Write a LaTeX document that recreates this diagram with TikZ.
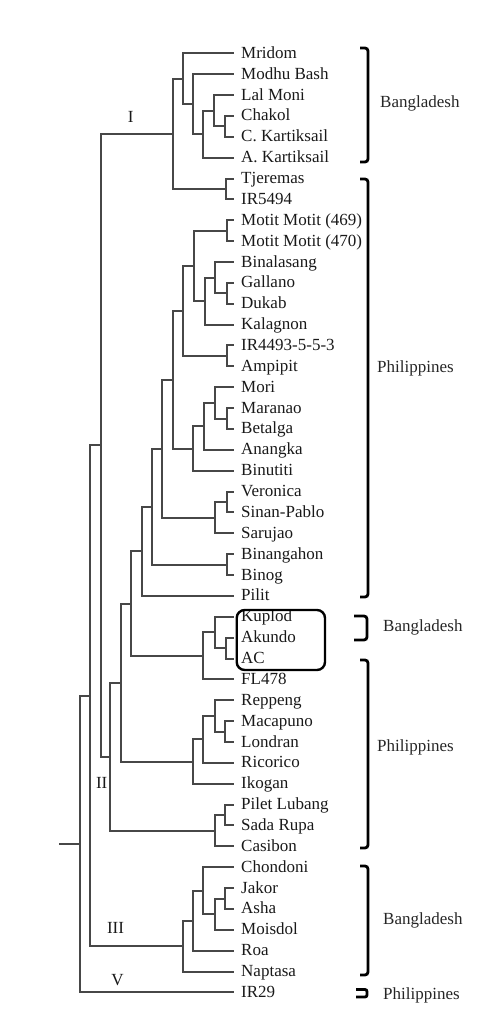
\documentclass[tikz,border=0pt]{standalone}
\usepackage{fontspec}
\setmainfont{Liberation Serif}
\begin{document}
\begin{tikzpicture}[x=1pt,y=-1pt,
  leaf/.style={anchor=west, inner sep=0pt, text height=13pt, text depth=3pt, text=black!90, font=\fontsize{17}{20}\selectfont},
  branch/.style={line width=2pt, draw=black!72},
  tip/.style={branch, shorten >=7pt},
  grp/.style={inner sep=0pt, text=black!90, font=\fontsize{17}{20}\selectfont},
  brk/.style={line width=2.8pt, rounded corners=3pt},
  region/.style={anchor=west, inner sep=0pt, text=black!85, font=\fontsize{17}{20}\selectfont}]
\useasboundingbox (0,0) rectangle (502,1022);

% leaves
\foreach \i/\t in {1/Mridom, 2/{Modhu Bash}, 3/{Lal Moni}, 4/Chakol, 5/{C. Kartiksail}, 6/{A. Kartiksail},
  7/Tjeremas, 8/IR5494, 9/{Motit Motit (469)}, 10/{Motit Motit (470)}, 11/Binalasang, 12/Gallano,
  13/Dukab, 14/Kalagnon, 15/IR4493-5-5-3, 16/Ampipit, 17/Mori, 18/Maranao, 19/Betalga, 20/Anangka,
  21/Binutiti, 22/Veronica, 23/Sinan-Pablo, 24/Sarujao, 25/Binangahon, 26/Binog, 27/Pilit,
  28/Kuplod, 29/Akundo, 30/AC, 31/FL478, 32/Reppeng, 33/Macapuno, 34/Londran, 35/Ricorico,
  36/Ikogan, 37/{Pilet Lubang}, 38/{Sada Rupa}, 39/Casibon, 40/Chondoni, 41/Jakor, 42/Asha,
  43/Moisdol, 44/Roa, 45/Naptasa, 46/IR29}
  \node[leaf] (L\i) at (241, {53.3+(\i-1)*20.87}) {\t};

% internal nodes
\coordinate (a1) at (225,126.35);
\coordinate (a2) at (214,110.7);
\coordinate (a3) at (203,134.2);
\coordinate (a4) at (193,104.2);
\coordinate (a5) at (183,78.75);
\coordinate (b1) at (226,189.0);
\coordinate (cI) at (173,133.9);
\coordinate (c1) at (227,230.7);
\coordinate (c2) at (227,293.3);
\coordinate (c3) at (215,277.65);
\coordinate (c4) at (205,301.1);
\coordinate (c5) at (194,265.9);
\coordinate (c6) at (227,355.95);
\coordinate (c7) at (183,310.9);
\coordinate (d1) at (227,418.55);
\coordinate (d2) at (215,402.9);
\coordinate (d3) at (204,426.35);
\coordinate (d4) at (193,448.5);
\coordinate (e1) at (173,379.7);
\coordinate (f1) at (227,502.0);
\coordinate (f2) at (215,517.65);
\coordinate (g1) at (162,448.7);
\coordinate (h1) at (227,564.65);
\coordinate (g2) at (152,506.7);
\coordinate (g3) at (142,551.3);
\coordinate (k1) at (226,648.1);
\coordinate (k2) at (215,632.45);
\coordinate (k3) at (203,655.9);
\coordinate (g4) at (131,603.6);
\coordinate (r1) at (225,731.55);
\coordinate (r2) at (215,715.9);
\coordinate (r3) at (203,739.4);
\coordinate (r4) at (193,761.6);
\coordinate (g5) at (121,682.6);
\coordinate (p1) at (225,815.05);
\coordinate (p2) at (215,830.7);
\coordinate (g6) at (110,756.7);
\coordinate (n100) at (100.5,445.3);
\coordinate (t1) at (225,898.55);
\coordinate (t2) at (215,914.2);
\coordinate (t3) at (203,890.7);
\coordinate (t4) at (193,920.7);
\coordinate (t5) at (183,946.15);
\coordinate (n90) at (90,695.7);
\coordinate (root) at (79.5,844.1);
\coordinate (stub) at (59,844.1);

% connectors to leaves
\foreach \p/\c in {a1/L4, a1/L5, a2/L3, a3/L6, a4/L2, a5/L1, b1/L7, b1/L8, c1/L9, c1/L10,
  c2/L12, c2/L13, c3/L11, c4/L14, c6/L15, c6/L16, d1/L18, d1/L19, d2/L17, d3/L20, d4/L21,
  f1/L22, f1/L23, f2/L24, h1/L25, h1/L26, g3/L27, k1/L29, k1/L30, k2/L28, k3/L31,
  r1/L33, r1/L34, r2/L32, r3/L35, r4/L36, p1/L37, p1/L38, p2/L39,
  t1/L41, t1/L42, t2/L43, t3/L40, t4/L44, t5/L45, root/L46}
  \draw[tip] (\p) |- (\c.west);

% connectors between internal nodes
\foreach \p/\c in {a2/a1, a3/a2, a4/a3, a5/a4, cI/a5, cI/b1, c3/c2, c4/c3, c5/c1, c5/c4,
  c7/c5, c7/c6, d2/d1, d3/d2, d4/d3, e1/c7, e1/d4, f2/f1, g1/e1, g1/f2, g2/g1, g2/h1,
  g3/g2, k2/k1, k3/k2, g4/g3, g4/k3, r2/r1, r3/r2, r4/r3, g5/g4, g5/r4, p2/p1,
  g6/g5, g6/p2, n100/cI, n100/g6, t2/t1, t3/t2, t4/t3, t5/t4, n90/n100, n90/t5, root/n90}
  \draw[branch] (\p) |- (\c);
\draw[branch] (stub) -- (root);

% cluster labels
\node[grp] (lI) at (130.7,116.5) {I};
\node[grp] (lII) at (101.7,783) {II};
\node[grp] (lIII) at (115.5,928) {III};
\node[grp] (lV) at (117.5,980) {V};

% highlighted box
\draw[line width=2.4pt, rounded corners=8pt] (236.7,610) rectangle (325,670);

% brackets
\draw[brk] (360,48) -- (368,48) -- (368,162) -- (360,162);
\draw[brk] (360,179) -- (368,179) -- (368,597) -- (360,597);
\draw[brk] (354,616) -- (367,616) -- (367,640) -- (354,640);
\draw[brk] (360,660) -- (368,660) -- (368,848) -- (360,848);
\draw[brk] (360,866) -- (368,866) -- (368,975) -- (360,975);
\draw[brk, rounded corners=2pt] (356,989.5) -- (367,989.5) -- (367,997) -- (356,997);

% region labels
\node[region] (r1l) at (380,103) {Bangladesh};
\node[region] (r2l) at (377,368) {Philippines};
\node[region] (r3l) at (383,627) {Bangladesh};
\node[region] (r4l) at (377,747) {Philippines};
\node[region] (r5l) at (383,920) {Bangladesh};
\node[region] (r6l) at (383,995) {Philippines};
\end{tikzpicture}
\end{document}
